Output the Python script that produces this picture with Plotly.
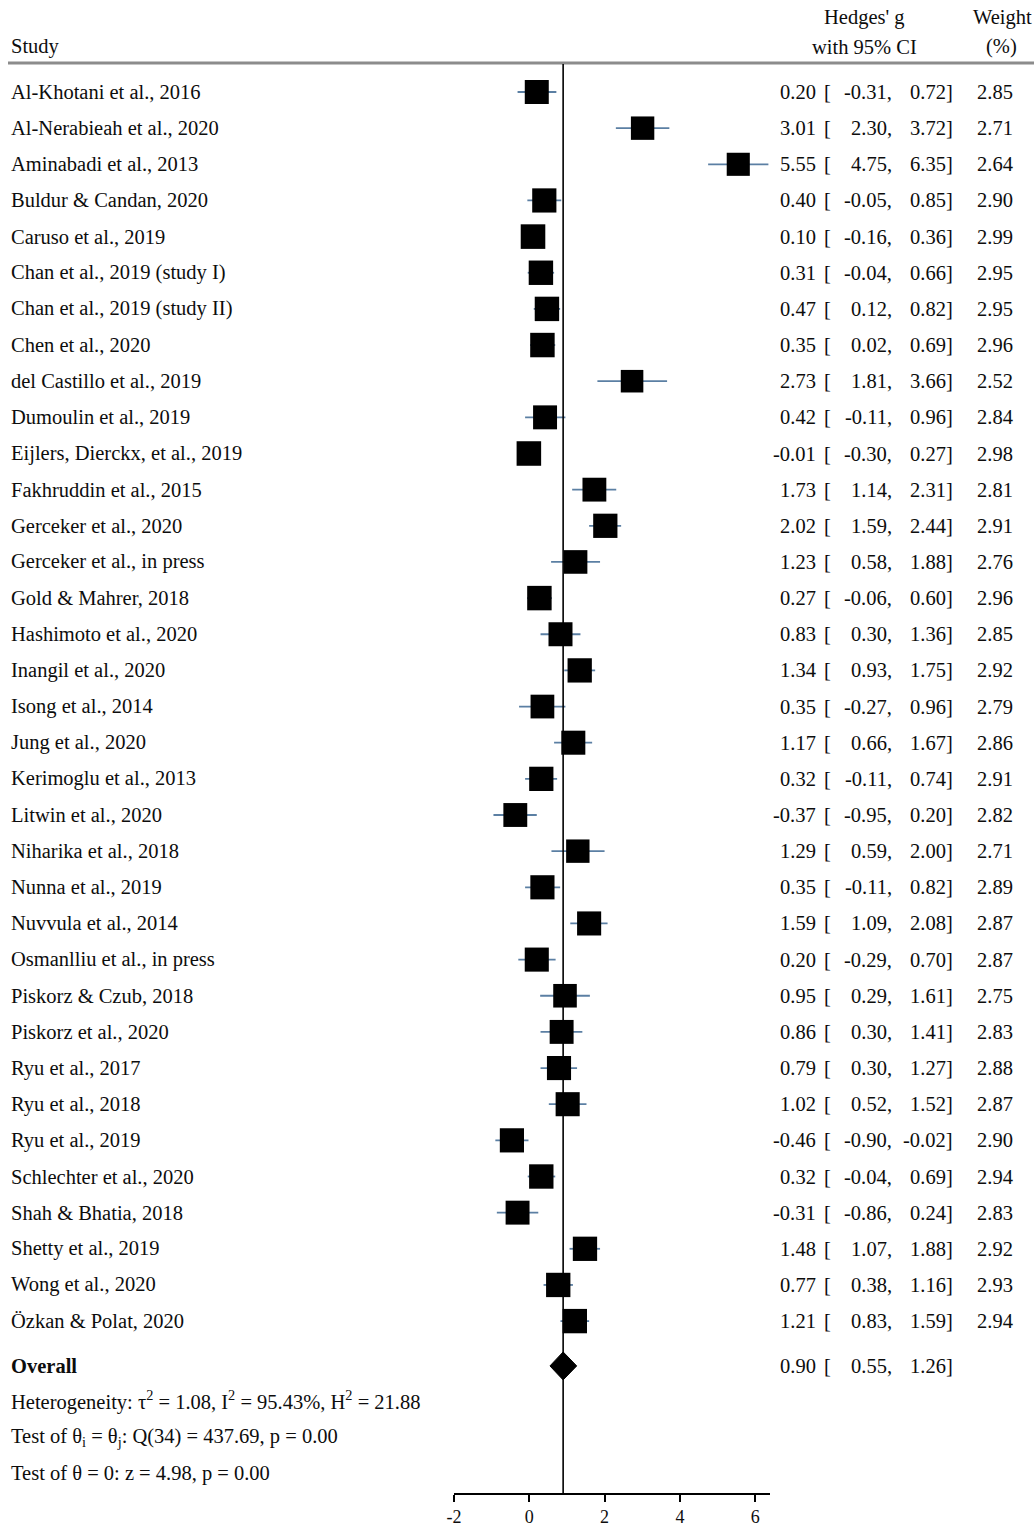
import math
import plotly.graph_objects as go

# ---- study-level results (Hedges' g with 95% CI and random-effects weight) ----
studies = [
    "Al-Khotani et al., 2016", "Al-Nerabieah et al., 2020", "Aminabadi et al., 2013",
    "Buldur & Candan, 2020", "Caruso et al., 2019", "Chan et al., 2019 (study I)",
    "Chan et al., 2019 (study II)", "Chen et al., 2020", "del Castillo et al., 2019",
    "Dumoulin et al., 2019", "Eijlers, Dierckx, et al., 2019", "Fakhruddin et al., 2015",
    "Gerceker et al., 2020", "Gerceker et al., in press", "Gold & Mahrer, 2018",
    "Hashimoto et al., 2020", "Inangil et al., 2020", "Isong et al., 2014",
    "Jung et al., 2020", "Kerimoglu et al., 2013", "Litwin et al., 2020",
    "Niharika et al., 2018", "Nunna et al., 2019", "Nuvvula et al., 2014",
    "Osmanlliu et al., in press", "Piskorz & Czub, 2018", "Piskorz et al., 2020",
    "Ryu et al., 2017", "Ryu et al., 2018", "Ryu et al., 2019",
    "Schlechter et al., 2020", "Shah & Bhatia, 2018", "Shetty et al., 2019",
    "Wong et al., 2020", "Özkan & Polat, 2020",
]
hedges_g = [0.20, 3.01, 5.55, 0.40, 0.10, 0.31, 0.47, 0.35, 2.73, 0.42,
            -0.01, 1.73, 2.02, 1.23, 0.27, 0.83, 1.34, 0.35, 1.17, 0.32,
            -0.37, 1.29, 0.35, 1.59, 0.20, 0.95, 0.86, 0.79, 1.02, -0.46,
            0.32, -0.31, 1.48, 0.77, 1.21]
ci_low = [-0.31, 2.30, 4.75, -0.05, -0.16, -0.04, 0.12, 0.02, 1.81, -0.11,
          -0.30, 1.14, 1.59, 0.58, -0.06, 0.30, 0.93, -0.27, 0.66, -0.11,
          -0.95, 0.59, -0.11, 1.09, -0.29, 0.29, 0.30, 0.30, 0.52, -0.90,
          -0.04, -0.86, 1.07, 0.38, 0.83]
ci_high = [0.72, 3.72, 6.35, 0.85, 0.36, 0.66, 0.82, 0.69, 3.66, 0.96,
           0.27, 2.31, 2.44, 1.88, 0.60, 1.36, 1.75, 0.96, 1.67, 0.74,
           0.20, 2.00, 0.82, 2.08, 0.70, 1.61, 1.41, 1.27, 1.52, -0.02,
           0.69, 0.24, 1.88, 1.16, 1.59]
weight_pct = [2.85, 2.71, 2.64, 2.90, 2.99, 2.95, 2.95, 2.96, 2.52, 2.84,
              2.98, 2.81, 2.91, 2.76, 2.96, 2.85, 2.92, 2.79, 2.86, 2.91,
              2.82, 2.71, 2.89, 2.87, 2.87, 2.75, 2.83, 2.88, 2.87, 2.90,
              2.94, 2.83, 2.92, 2.93, 2.94]

# ---- pooled estimate and summary statistics ----
overall_g = 0.90
overall_low = 0.55
overall_high = 1.26
stat_lines = [
    "Heterogeneity: τ<sup>2</sup> = 1.08, I<sup>2</sup> = 95.43%, H<sup>2</sup> = 21.88",
    "Test of θ<sub>i</sub> = θ<sub>j</sub>: Q(34) = 437.69, p = 0.00",
    "Test of θ = 0: z = 4.98, p = 0.00",
]
x_ticks = [-2, 0, 2, 4, 6]

# ---- page geometry (pixels) ----
W, H = 1034, 1530
AXIS_PX = 1493          # vertical position of the x axis line
ROW0_PX = 92            # centre of the first study row
ROW_PX = 36.15          # row pitch
HEADER_LINE_PX = 63
FONT = "Liberation Serif, Times New Roman, serif"
FS = 20.5
TXT = "#0d0d0d"
CI_COLOR = "#5b7fa3"


def px_x(p):
    # horizontal page position -> paper fraction (small offset correction for the renderer)
    return (p - 10) / (W * 0.988)


def px_y(p):
    return (AXIS_PX - p) / AXIS_PX


n = len(studies)
rows = list(range(n))
overall_row = n + 0.24
stat_rows = [n + 1.21, n + 2.21, n + 3.21]

fig = go.Figure()

# confidence intervals + weight-scaled squares
fig.add_trace(go.Scatter(
    x=hedges_g, y=rows, mode="markers",
    marker=dict(symbol="square", color="black", opacity=1,
                size=[24 * math.sqrt(w / 2.85) for w in weight_pct],
                line=dict(width=0)),
    error_x=dict(type="data", symmetric=False,
                 array=[h - g for g, h in zip(hedges_g, ci_high)],
                 arrayminus=[g - l for g, l in zip(hedges_g, ci_low)],
                 width=0, thickness=1.8, color=CI_COLOR),
    cliponaxis=False, hoverinfo="skip", showlegend=False,
))

# pooled-effect diamond
half_h = 14 / ROW_PX
fig.add_trace(go.Scatter(
    x=[overall_low, overall_g, overall_high, overall_g, overall_low],
    y=[overall_row, overall_row - half_h, overall_row, overall_row + half_h, overall_row],
    mode="lines", fill="toself", fillcolor="black",
    line=dict(color="black", width=1),
    cliponaxis=False, hoverinfo="skip", showlegend=False,
))

shapes = [
    # header rule
    dict(type="line", xref="paper", yref="paper",
         x0=max(px_x(7), 0), x1=1, y0=px_y(HEADER_LINE_PX), y1=px_y(HEADER_LINE_PX),
         line=dict(color="#8c8c8c", width=3)),
    # line at the pooled estimate
    dict(type="line", xref="x", yref="paper",
         x0=overall_g, x1=overall_g, y0=0, y1=px_y(HEADER_LINE_PX + 1),
         line=dict(color="black", width=1.6), layer="above"),
]

annotations = []


def add_text(text, x_px, y, anchor="left", yref="y", size=FS):
    annotations.append(dict(
        text=text, x=px_x(x_px), y=y, xref="paper", yref=yref,
        xanchor=anchor, yanchor="middle", showarrow=False,
        font=dict(family=FONT, size=size, color=TXT),
    ))


# column headers
add_text("Study", 11, px_y(47), yref="paper")
add_text("Hedges' g", 863, px_y(18), anchor="center", yref="paper")
add_text("with 95% CI", 863, px_y(47), anchor="center", yref="paper")
add_text("Weight", 1000, px_y(18), anchor="center", yref="paper")
add_text("(%)", 999, px_y(47), anchor="center", yref="paper")


def add_ci_text(row, g, lo, hi):
    add_text(f"{g:.2f}", 817, row, anchor="right")
    add_text("[", 821, row, anchor="left")
    add_text(f"{lo:.2f},", 892, row, anchor="right")
    add_text(f"{hi:.2f}]", 953, row, anchor="right")


for r, name, g, lo, hi, w in zip(rows, studies, hedges_g, ci_low, ci_high, weight_pct):
    add_text(name, 11, r)
    add_ci_text(r, g, lo, hi)
    add_text(f"{w:.2f}", 1013, r, anchor="right")

add_text("<b>Overall</b>", 11, overall_row)
add_ci_text(overall_row, overall_g, overall_low, overall_high)
for r, line in zip(stat_rows, stat_lines):
    add_text(line, 11, r)

fig.update_layout(
    width=W, height=H,
    margin=dict(l=0, r=0, t=0, b=H - AXIS_PX, pad=0),
    paper_bgcolor="white", plot_bgcolor="white",
    shapes=shapes, annotations=annotations,
    xaxis=dict(domain=[px_x(454), px_x(769)], range=[-2, 6.4],
               tickvals=x_ticks, ticktext=[str(t) for t in x_ticks],
               showline=True, linecolor="black", linewidth=1.5,
               ticks="outside", ticklen=7, tickwidth=1.5, tickcolor="black",
               tickfont=dict(family=FONT, size=18, color=TXT),
               showgrid=False, zeroline=False, fixedrange=True),
    yaxis=dict(range=[(AXIS_PX - ROW0_PX) / ROW_PX, -ROW0_PX / ROW_PX],
               visible=False, showgrid=False, zeroline=False, fixedrange=True),
)

fig.write_html("out.html")
